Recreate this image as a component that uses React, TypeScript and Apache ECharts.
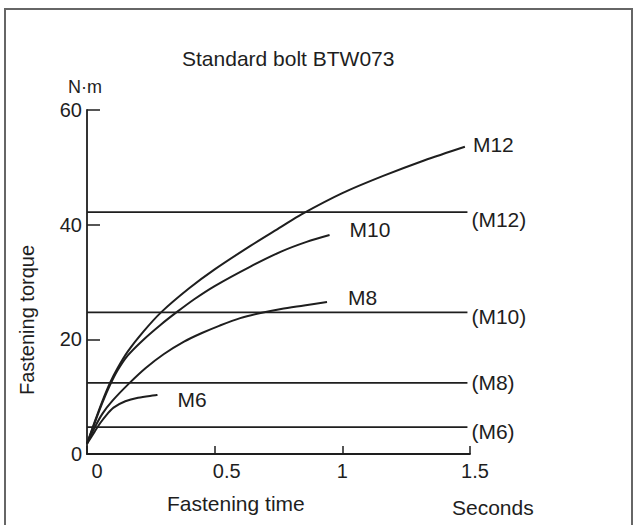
import React, { useEffect, useRef } from 'react';
import * as echarts from 'echarts';

// Fastening time (s) and torque (N·m)
const timeM12 = [0, 0.03, 0.06, 0.09, 0.12, 0.16, 0.22, 0.29, 0.4, 0.5, 0.64, 0.76, 0.84, 1.0, 1.16, 1.32, 1.48];
const torqueM12 = [1.8, 5.6, 9.2, 12.4, 15.0, 17.9, 21.3, 24.7, 28.9, 32.2, 36.3, 39.6, 41.8, 45.5, 48.5, 51.2, 53.6];

const timeM10 = [0, 0.03, 0.06, 0.09, 0.12, 0.16, 0.22, 0.29, 0.35, 0.42, 0.5, 0.64, 0.76, 0.86, 0.95];
const torqueM10 = [1.8, 5.4, 8.9, 12.0, 14.6, 17.2, 19.9, 22.6, 24.7, 27.0, 29.3, 32.7, 35.3, 37.0, 38.2];

const timeM8 = [0, 0.03, 0.06, 0.1, 0.167, 0.23, 0.3, 0.38, 0.45, 0.52, 0.6, 0.68, 0.76, 0.85, 0.94];
const torqueM8 = [1.8, 4.6, 7.0, 9.3, 12.4, 15.0, 17.4, 19.6, 21.1, 22.4, 23.7, 24.6, 25.3, 25.9, 26.5];

const timeM6 = [0, 0.03, 0.052, 0.08, 0.104, 0.15, 0.2, 0.276];
const torqueM6 = [1.8, 3.9, 5.4, 7.0, 8.1, 9.2, 9.8, 10.3];

// Standard torque levels (horizontal lines)
const standardNames = ['(M12)', '(M10)', '(M8)', '(M6)'];
const standardTorques = [42.2, 24.7, 12.4, 4.7];
const standardSpan = [0, 1.49];

const curveNames = ['M12', 'M10', 'M8', 'M6'];

const FONT = '"Liberation Sans", Arial, Helvetica, sans-serif';
const INK = '#1e1e1e';

const zip = (xs: number[], ys: number[]) => xs.map((x, i) => [x, ys[i]]);

export default function App() {
  const ref = useRef<HTMLDivElement>(null);
  useEffect(() => {
    const chart = echarts.init(ref.current!, null, { renderer: 'svg' });

    const curves = [
      { data: zip(timeM12, torqueM12), dist: 8, off: [0, -2] },
      { data: zip(timeM10, torqueM10), dist: 20, off: [0, -5] },
      { data: zip(timeM8, torqueM8), dist: 21, off: [0, -5] },
      { data: zip(timeM6, torqueM6), dist: 20, off: [0, 5] },
    ].map((c, i) => ({
      type: 'line',
      name: curveNames[i],
      data: c.data,
      smooth: 0.3,
      showSymbol: false,
      symbol: 'none',
      lineStyle: { color: INK, width: 2 },
      endLabel: {
        show: true,
        formatter: curveNames[i],
        distance: c.dist,
        offset: c.off,
        color: INK,
        fontSize: 21,
        fontFamily: FONT,
      },
    }));

    const standardOffsets = [[0, 7], [0, 4], [0, 0], [0, 4]];
    const standards = standardTorques.map((v, i) => ({
      type: 'line',
      name: standardNames[i],
      data: standardSpan.map((t) => [t, v]),
      showSymbol: false,
      symbol: 'none',
      lineStyle: { color: INK, width: 1.8 },
      endLabel: {
        show: true,
        formatter: standardNames[i],
        distance: 4,
        offset: standardOffsets[i],
        color: INK,
        fontSize: 21,
        fontFamily: FONT,
      },
    }));

    const labelStyle = { fontSize: 20, color: INK, fontFamily: FONT };

    chart.setOption({
      animation: false,
      backgroundColor: '#fff',
      textStyle: { fontFamily: FONT },
      grid: { left: 87, right: 165, top: 110, bottom: 71 },
      xAxis: {
        type: 'value',
        min: 0,
        max: 1.5,
        interval: 0.5,
        axisLine: { show: true, lineStyle: { color: INK, width: 1.8 } },
        axisTick: { show: true, inside: true, length: 8, lineStyle: { color: INK, width: 1.5 } },
        splitLine: { show: false },
        axisLabel: {
          margin: 7,
          ...labelStyle,
          formatter: (v: number) =>
            v === 0 ? '{z|0}' : v === 0.5 ? '{h|0.5}' : v === 1.5 ? '{e|1.5}' : String(v),
          rich: {
            z: { ...labelStyle, padding: [0, 0, 0, 20] },
            h: { ...labelStyle, padding: [0, 0, 0, 24] },
            e: { ...labelStyle, padding: [0, 0, 0, 10] },
          },
        },
      },
      yAxis: {
        type: 'value',
        min: 0,
        max: 60,
        interval: 20,
        axisLine: { show: true, lineStyle: { color: INK, width: 1.8 } },
        axisTick: { show: true, inside: true, length: 13, lineStyle: { color: INK, width: 1.5 } },
        splitLine: { show: false },
        axisLabel: { margin: 5, ...labelStyle },
      },
      graphic: [
        {
          type: 'rect',
          shape: { x: 5, y: 9, width: 627, height: 540 },
          style: { fill: 'none', stroke: '#666', lineWidth: 2 },
          silent: true,
        },
        {
          type: 'text',
          x: 182,
          y: 58,
          style: { text: 'Standard bolt BTW073', fill: INK, font: `21px ${FONT}`, verticalAlign: 'middle' },
        },
        {
          type: 'text',
          x: 85,
          y: 87,
          style: { text: 'N·m', fill: INK, font: `18px ${FONT}`, align: 'center', verticalAlign: 'middle' },
        },
        {
          type: 'text',
          x: 27,
          y: 320,
          rotation: Math.PI / 2,
          style: { text: 'Fastening torque', fill: INK, font: `20px ${FONT}`, align: 'center', verticalAlign: 'middle' },
        },
        {
          type: 'text',
          x: 167,
          y: 503,
          style: { text: 'Fastening time', fill: INK, font: `21px ${FONT}`, verticalAlign: 'middle' },
        },
        {
          type: 'text',
          x: 452,
          y: 507,
          style: { text: 'Seconds', fill: INK, font: `21px ${FONT}`, verticalAlign: 'middle' },
        },
      ],
      series: [...curves, ...standards],
    });
    return () => chart.dispose();
  }, []);
  return (
    <div
      ref={ref}
      style={{ position: 'absolute', left: 0, top: 0, width: 635, height: 525, background: '#fff' }}
    />
  );
}
